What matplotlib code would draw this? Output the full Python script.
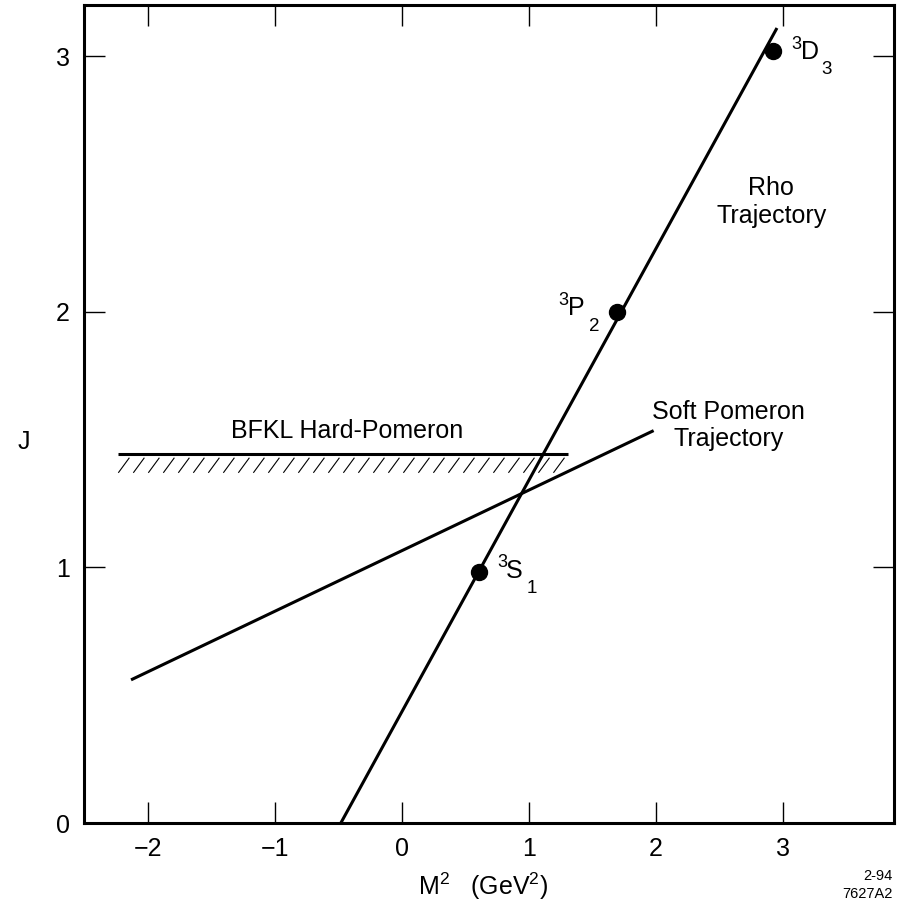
import matplotlib
matplotlib.use("Agg")
import matplotlib.pyplot as plt
from matplotlib.collections import LineCollection
import numpy as np

plt.rcParams['font.family'] = ['Liberation Sans', 'DejaVu Sans']
plt.rcParams['mathtext.fontset'] = 'custom'
plt.rcParams['mathtext.rm'] = 'Liberation Sans'
plt.rcParams['mathtext.it'] = 'Liberation Sans'
plt.rcParams['mathtext.default'] = 'rm'

# Data (M^2 in GeV^2, J)
rho_m2 = [-0.48, 2.95]
rho_j = [0.0, 3.11]
soft_m2 = [-2.13, 1.98]
soft_j = [0.56, 1.535]
bfkl_m2 = [-2.23, 1.31]
bfkl_j = 1.445
state_m2 = [0.61, 1.69, 2.92]
state_j = [0.98, 2.0, 3.02]
state_sup = ['3', '3', '3']
state_main = ['S', 'P', 'D']
state_sub = ['1', '2', '3']
state_label_pos = [(0.747, 0.96), (1.234, 1.986), (3.066, 2.989)]

xticks = [-2, -1, 0, 1, 2, 3]
xticklabels = ['\u22122', '\u22121', '0', '1', '2', '3']
yticks = [0, 1, 2, 3]

fig = plt.figure(figsize=(9.06, 9.24), dpi=100)
ax = fig.add_axes([0.0927, 0.1093, 0.894, 0.8853])

lw = 2.2
ax.plot(rho_m2, rho_j, color='black', lw=lw, solid_capstyle='butt')
ax.plot(soft_m2, soft_j, color='black', lw=lw, solid_capstyle='butt')
ax.plot(bfkl_m2, [bfkl_j, bfkl_j], color='black', lw=lw, solid_capstyle='butt')

# hatching below the BFKL line (style: spacing / slant in data units)
h_step, h_dx, h_top, h_bot = 0.118, 0.087, 0.016, 0.075
h_x0 = np.arange(bfkl_m2[0], bfkl_m2[1] - h_dx + 1e-9, h_step)
segs = [[(x, bfkl_j - h_bot), (x + h_dx, bfkl_j - h_top)] for x in h_x0]
ax.add_collection(LineCollection(segs, colors='black', linewidths=0.8))

ax.plot(state_m2, state_j, 'o', color='black', markersize=11.5, linestyle='none')

for sup, main, sub, (x, y) in zip(state_sup, state_main, state_sub, state_label_pos):
    ax.annotate(sup, (x, y), xytext=(0, 7.5), textcoords='offset points',
                fontsize=13, ha='left', va='baseline')
    ax.annotate(main, (x, y), xytext=(6.5, 0), textcoords='offset points',
                fontsize=18, ha='left', va='baseline')
    ax.annotate(sub, (x, y), xytext=(21.5, -11), textcoords='offset points',
                fontsize=13.5, ha='left', va='baseline')

ax.text(2.905, 2.43, 'Rho\nTrajectory', fontsize=18, ha='center', va='center', linespacing=1.2)
ax.text(2.57, 1.555, 'Soft Pomeron\nTrajectory', fontsize=18, ha='center', va='center', linespacing=1.2)
ax.text(-0.43, 1.535, 'BFKL Hard-Pomeron', fontsize=18, ha='center', va='center')

ax.set_xlim(-2.5, 3.87)
ax.set_ylim(0, 3.2)
ax.set_xticks(xticks)
ax.set_xticklabels(xticklabels)
ax.set_yticks(yticks)
ax.tick_params(direction='in', length=15, width=1.0, top=True, right=True,
               labelsize=18, pad=10)
for s in ax.spines.values():
    s.set_linewidth(2.2)

fig.text(18 / 906, 1 - 442 / 924, 'J', fontsize=18, ha='left', va='center')
fig.text(483 / 906, 1 - 886 / 924, r'M$^{2}$   (GeV$^{2}$)', fontsize=18, ha='center', va='center')
fig.text(893 / 906, 1 - 885 / 924, '2-94\n7627A2', fontsize=10.5, ha='right', va='center', linespacing=1.3)

fig.savefig('out.png', dpi=100)
